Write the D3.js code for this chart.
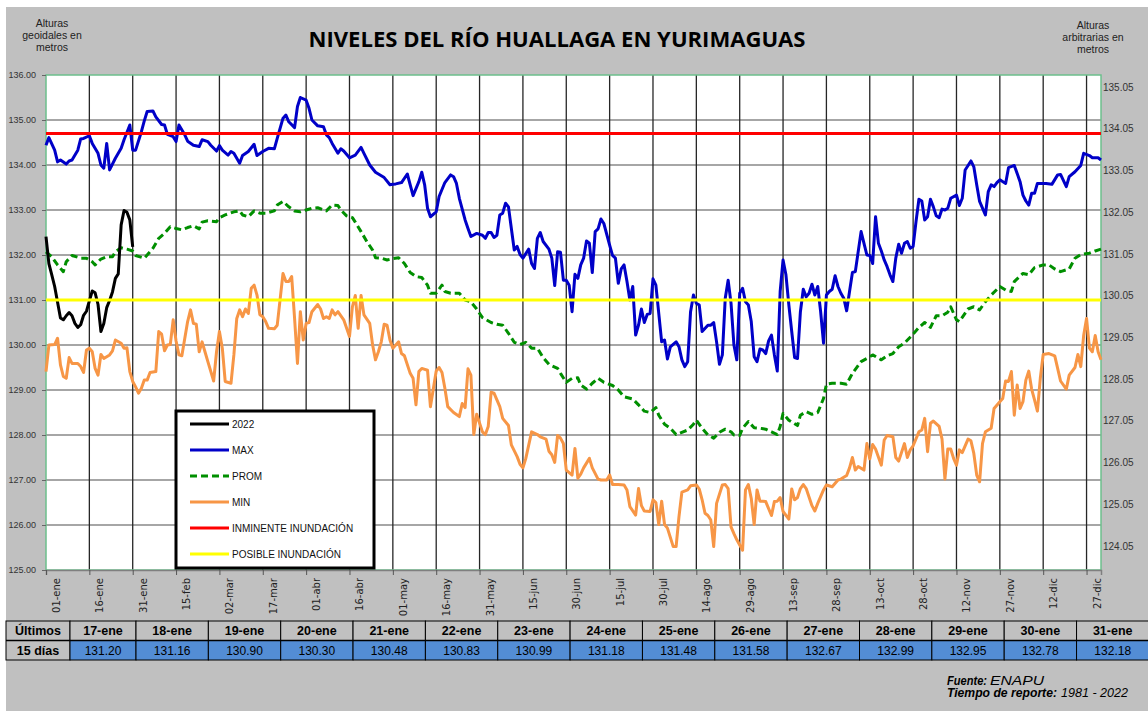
<!DOCTYPE html>
<html>
<head>
<meta charset="utf-8">
<script src="https://cdn.jsdelivr.net/npm/d3@7"></script>
<style>
  body { margin: 0; background: #ffffff; }
  svg { display: block; }
</style>
</head>
<body>
<svg></svg>
<script>
// --- datos (dia del anio, nivel en m) ---
var tickLabels = ["01-ene", "16-ene", "31-ene", "15-feb", "02-mar", "17-mar", "01-abr", "16-abr",
  "01-may", "16-may", "31-may", "15-jun", "30-jun", "15-jul", "30-jul", "14-ago", "29-ago",
  "13-sep", "28-sep", "13-oct", "28-oct", "12-nov", "27-nov", "12-dic", "27-dic"];
var leftTicks = [125, 126, 127, 128, 129, 130, 131, 132, 133, 134, 135, 136];
var rightTicks = [124.05, 125.05, 126.05, 127.05, 128.05, 129.05, 130.05, 131.05, 132.05, 133.05, 134.05, 135.05];

var inminente = 134.70;
var posible = 131.00;

var days2022 = [1, 2, 3, 4, 5, 6, 7, 8, 9, 10, 11, 12, 13, 14, 15, 16, 17, 18, 19, 20, 21, 22, 23, 24, 25, 26, 27, 28, 29, 30, 31];
var vals2022 = [132.41, 131.81, 131.56, 131.30, 130.95, 130.60, 130.56, 130.65, 130.72, 130.65, 130.48, 130.39,
  130.45, 130.66, 130.75, 130.98, 131.20, 131.16, 130.90, 130.30, 130.48, 130.83, 130.99, 131.18, 131.48,
  131.58, 132.67, 132.99, 132.95, 132.78, 132.18];

var maxDays = [1, 2, 4, 5, 6, 8, 9, 10, 12, 13, 14, 16, 17, 19, 20, 21, 22, 23, 25, 27, 28, 30, 31, 32, 34, 35, 36, 38, 39,
  41, 42, 43, 45, 46, 47, 49, 50, 52, 54, 55, 57, 58, 60, 61, 62, 64, 65, 66, 68, 69, 71, 73, 74, 76, 78, 80, 81, 83,
  84, 85, 87, 88, 89, 91, 92, 93, 95, 97, 98, 99, 100, 102, 103, 104, 106, 108, 110, 111, 113, 115, 117, 118, 120,
  121, 122, 124, 126, 128, 130, 131, 132, 133, 134, 136, 137, 139, 141, 142, 143, 144, 146, 147, 148, 150, 152, 153,
  154, 155, 156, 157, 158, 159, 160, 161, 162, 163, 164, 165, 166, 168, 169, 170, 171, 172, 173, 175, 176, 177, 178,
  179, 180, 181, 182, 183, 184, 185, 186, 187, 188, 189, 190, 191, 192, 193, 194, 196, 197, 198, 199, 200, 201, 202,
  203, 204, 205, 206, 207, 208, 209, 210, 211, 212, 214, 215, 216, 217, 219, 220, 221, 222, 223, 224, 225, 226, 227,
  228, 230, 231, 232, 233, 234, 235, 236, 237, 238, 239, 240, 241, 242, 243, 244, 245, 246, 247, 248, 249, 250, 251,
  252, 253, 254, 255, 256, 257, 258, 259, 260, 261, 262, 263, 264, 265, 266, 267, 268, 269, 270, 271, 272, 273, 274,
  275, 276, 277, 278, 279, 280, 281, 283, 284, 285, 286, 287, 288, 289, 290, 291, 292, 293, 294, 295, 296, 297, 298,
  299, 300, 301, 302, 303, 304, 305, 306, 307, 308, 309, 310, 311, 312, 313, 314, 316, 317, 318, 319, 321, 322, 323,
  324, 326, 327, 328, 329, 330, 331, 333, 334, 336, 337, 338, 339, 340, 341, 342, 343, 344, 346, 347, 349, 351, 352,
  354, 355, 357, 359, 360, 362, 363, 365, 366];
var maxVals = [134.44, 134.61, 134.33, 134.07, 134.11, 134.02, 134.09, 134.11, 134.33, 134.58, 134.59, 134.65, 134.48,
  134.26, 134.00, 133.93, 134.48, 133.89, 134.15, 134.37, 134.56, 134.89, 134.33, 134.33, 134.74, 134.98, 135.19,
  135.20, 135.07, 134.90, 134.89, 134.68, 134.63, 134.52, 134.89, 134.67, 134.53, 134.44, 134.41, 134.56, 134.52,
  134.44, 134.31, 134.43, 134.33, 134.22, 134.30, 134.26, 134.04, 134.21, 134.30, 134.46, 134.21, 134.30, 134.37,
  134.36, 134.59, 135.04, 135.11, 134.96, 134.83, 135.30, 135.50, 135.44, 135.26, 135.00, 134.87, 134.85, 134.67,
  134.61, 134.48, 134.26, 134.36, 134.31, 134.16, 134.22, 134.39, 134.26, 134.00, 133.84, 133.76, 133.72, 133.56,
  133.57, 133.58, 133.61, 133.80, 133.32, 133.63, 133.84, 133.56, 133.04, 132.85, 132.96, 133.30, 133.61, 133.78,
  133.74, 133.59, 133.26, 132.78, 132.59, 132.41, 132.48, 132.44, 132.37, 132.50, 132.50, 132.39, 132.44, 132.89,
  132.93, 133.15, 133.07, 132.59, 132.11, 132.19, 132.01, 131.93, 132.13, 131.81, 131.70, 132.37, 132.50, 132.30,
  132.13, 131.93, 131.32, 132.07, 132.06, 131.44, 131.44, 131.33, 130.74, 131.57, 131.48, 131.78, 131.93, 132.31,
  132.26, 131.61, 132.52, 132.58, 132.80, 132.70, 132.22, 131.99, 131.93, 131.37, 131.69, 131.78, 131.41, 131.00,
  131.30, 130.22, 130.44, 130.80, 130.50, 130.68, 130.70, 131.47, 131.33, 130.07, 130.11, 129.69, 129.96, 130.07,
  129.96, 129.67, 129.52, 129.63, 130.74, 131.11, 130.93, 130.89, 130.30, 130.44, 130.44, 130.50, 130.07, 129.57,
  129.78, 131.04, 131.44, 130.93, 130.00, 129.67, 131.15, 131.26, 130.96, 130.89, 130.52, 129.74, 129.63, 129.91,
  129.89, 129.81, 130.09, 130.22, 129.78, 129.42, 131.19, 131.89, 131.56, 130.89, 130.30, 129.72, 129.70, 130.74,
  131.24, 131.07, 131.15, 131.35, 131.11, 131.30, 130.74, 130.04, 131.11, 131.19, 131.24, 131.54, 131.30, 131.15,
  131.04, 130.76, 131.19, 131.61, 131.63, 132.52, 132.26, 132.00, 131.99, 131.81, 132.85, 132.26, 132.09, 131.89,
  131.74, 131.56, 131.41, 131.93, 132.24, 132.04, 132.26, 132.30, 132.15, 132.19, 132.74, 133.24, 133.20, 132.78,
  132.85, 133.24, 133.07, 132.87, 132.83, 133.02, 133.00, 133.04, 133.26, 133.33, 133.10, 133.26, 133.89, 134.09,
  133.96, 133.56, 133.19, 132.89, 133.41, 133.56, 133.52, 133.61, 133.67, 133.59, 133.94, 133.99, 133.81, 133.63,
  133.33, 133.20, 133.11, 133.37, 133.37, 133.59, 133.59, 133.59, 133.57, 133.78, 133.79, 133.52, 133.74, 133.85,
  133.99, 134.26, 134.21, 134.16, 134.16, 134.11];

var promDays = [1, 3, 5, 7, 8, 10, 13, 15, 17, 18, 20, 22, 24, 25, 27, 29, 31, 32, 35, 36, 38, 40, 42, 44, 46, 48, 50,
  52, 54, 55, 57, 60, 61, 63, 66, 68, 69, 71, 73, 75, 77, 80, 81, 83, 85, 87, 89, 91, 93, 95, 98, 100, 102, 103, 105,
  107, 108, 110, 112, 114, 115, 117, 119, 121, 123, 125, 127, 129, 131, 133, 134, 136, 138, 139, 141, 144, 146, 148,
  150, 152, 155, 157, 159, 161, 163, 165, 167, 169, 171, 173, 175, 178, 179, 181, 183, 185, 186, 188, 190, 192, 194,
  197, 199, 201, 204, 206, 208, 210, 212, 213, 215, 217, 219, 221, 223, 225, 226, 228, 230, 232, 234, 236, 238, 239,
  241, 242, 244, 246, 248, 250, 252, 254, 255, 256, 258, 261, 262, 264, 266, 268, 270, 271, 273, 276, 278, 280, 283,
  285, 287, 290, 292, 294, 296, 298, 301, 303, 305, 307, 309, 311, 313, 314, 316, 317, 320, 322, 324, 326, 328, 331,
  333, 335, 336, 339, 341, 343, 346, 348, 350, 352, 355, 357, 359, 362, 364, 366];
var promVals = [132.07, 131.96, 131.78, 131.63, 131.85, 131.99, 131.93, 131.93, 131.85, 131.78, 131.91, 131.96, 131.96,
  132.07, 132.16, 132.13, 132.09, 131.99, 131.93, 132.00, 132.15, 132.37, 132.48, 132.63, 132.59, 132.56, 132.61,
  132.65, 132.58, 132.73, 132.76, 132.74, 132.83, 132.89, 132.96, 132.98, 132.89, 132.85, 132.98, 132.93, 132.93,
  132.98, 133.11, 133.19, 133.07, 132.98, 132.96, 133.00, 133.04, 133.05, 132.98, 133.11, 133.10, 133.00, 132.87,
  132.83, 132.73, 132.52, 132.30, 132.11, 131.94, 131.93, 131.89, 131.92, 131.94, 131.81, 131.61, 131.52, 131.50,
  131.33, 131.15, 131.15, 131.33, 131.19, 131.15, 131.15, 131.00, 130.96, 130.80, 130.61, 130.50, 130.46, 130.44,
  130.26, 130.06, 130.01, 130.06, 129.93, 129.93, 129.72, 129.57, 129.48, 129.37, 129.17, 129.26, 129.27, 129.11,
  129.02, 129.15, 129.26, 129.17, 129.10, 129.00, 128.85, 128.80, 128.67, 128.53, 128.50, 128.61, 128.44, 128.24,
  128.15, 128.01, 128.06, 128.11, 128.24, 128.33, 128.15, 128.00, 127.93, 128.06, 128.13, 128.07, 128.00, 127.99,
  128.15, 128.30, 128.16, 128.15, 128.13, 128.07, 128.01, 128.19, 128.48, 128.33, 128.21, 128.44, 128.52, 128.46,
  128.50, 128.81, 129.13, 129.15, 129.15, 129.13, 129.37, 129.63, 129.70, 129.78, 129.67, 129.76, 129.81, 129.96,
  130.04, 130.24, 130.39, 130.50, 130.39, 130.65, 130.65, 130.73, 130.85, 130.56, 130.52, 130.80, 130.85, 130.78,
  130.96, 131.11, 131.30, 131.22, 131.19, 131.41, 131.59, 131.56, 131.72, 131.78, 131.78, 131.69, 131.63, 131.69,
  131.93, 132.01, 132.04, 132.09, 132.13];

var minDays = [1, 2, 4, 5, 6, 7, 8, 9, 10, 12, 13, 14, 15, 16, 17, 18, 19, 20, 21, 23, 24, 25, 27, 28, 29, 30, 31, 32,
  33, 34, 35, 36, 37, 39, 40, 41, 42, 43, 44, 45, 46, 47, 48, 50, 51, 52, 53, 54, 55, 56, 57, 59, 60, 61, 62, 63, 65,
  66, 67, 68, 69, 70, 71, 72, 73, 74, 75, 76, 77, 78, 80, 81, 83, 84, 85, 86, 87, 88, 89, 90, 91, 92, 93, 95, 96, 97,
  98, 99, 100, 101, 102, 104, 106, 107, 108, 109, 110, 111, 113, 114, 115, 116, 117, 118, 119, 120, 121, 123, 124, 125,
  127, 128, 129, 130, 131, 133, 134, 136, 137, 138, 139, 140, 142, 144, 145, 146, 147, 148, 149, 150, 152, 153, 154,
  155, 156, 158, 159, 161, 162, 164, 165, 166, 167, 169, 171, 172, 174, 175, 176, 177, 178, 179, 180, 181, 183, 184,
  185, 186, 187, 189, 190, 192, 193, 195, 196, 197, 199, 201, 202, 203, 205, 206, 207, 208, 210, 211, 212, 213, 214,
  215, 216, 218, 219, 220, 221, 223, 224, 226, 227, 228, 229, 230, 231, 232, 233, 235, 236, 237, 238, 239, 240, 242,
  243, 244, 245, 246, 247, 248, 249, 250, 252, 253, 254, 255, 256, 258, 259, 260, 261, 262, 263, 264, 266, 267, 268,
  270, 271, 273, 275, 276, 278, 279, 280, 281, 282, 284, 285, 286, 287, 288, 290, 291, 292, 294, 295, 296, 298, 299,
  300, 301, 303, 304, 305, 306, 307, 308, 310, 311, 312, 313, 314, 315, 316, 317, 318, 320, 321, 322, 323, 324, 325,
  326, 327, 328, 329, 331, 332, 333, 334, 335, 336, 337, 338, 339, 340, 341, 342, 343, 344, 345, 346, 348, 350, 351,
  352, 354, 355, 357, 358, 359, 360, 361, 362, 363, 364, 365, 366];
var minVals = [129.41, 130.00, 130.01, 130.15, 129.56, 129.30, 129.26, 129.72, 129.59, 129.59, 129.52, 129.39, 129.89,
  129.93, 129.85, 129.48, 129.33, 129.79, 129.70, 129.78, 129.87, 130.11, 130.04, 129.93, 129.94, 129.41, 129.19,
  129.07, 128.93, 129.04, 129.22, 129.22, 129.39, 129.41, 130.30, 130.24, 129.87, 130.00, 130.01, 130.56, 130.09,
  129.78, 129.76, 130.52, 130.78, 130.48, 130.46, 129.85, 130.07, 129.85, 129.63, 129.20, 129.85, 130.30, 129.93,
  129.19, 129.15, 129.78, 130.59, 130.78, 130.63, 130.80, 130.70, 131.26, 131.33, 131.11, 130.67, 130.63, 130.52,
  130.37, 130.36, 130.44, 131.59, 131.41, 131.41, 131.52, 130.59, 129.59, 130.74, 130.11, 130.48, 130.50, 130.74,
  130.90, 130.80, 130.59, 130.63, 130.59, 130.78, 130.67, 130.74, 130.56, 130.19, 130.85, 131.10, 130.37, 131.10,
  130.67, 130.48, 130.00, 129.67, 129.85, 130.07, 130.46, 130.44, 130.11, 129.93, 130.07, 129.81, 129.76, 129.37,
  129.26, 128.67, 129.41, 129.48, 129.44, 128.63, 129.42, 129.50, 129.39, 129.04, 128.63, 128.50, 128.41, 128.70,
  128.61, 129.47, 129.33, 128.01, 128.46, 128.07, 128.01, 128.19, 128.95, 128.93, 128.63, 128.37, 128.21, 127.78,
  127.52, 127.35, 127.27, 127.48, 128.07, 128.01, 127.96, 127.91, 127.64, 127.56, 127.39, 127.99, 127.93, 127.81,
  127.22, 127.11, 127.70, 127.04, 127.13, 127.27, 127.48, 127.27, 127.02, 127.00, 127.00, 127.11, 126.90, 126.90,
  126.89, 126.78, 126.41, 126.22, 126.81, 126.43, 126.31, 126.30, 126.56, 126.50, 126.01, 126.53, 126.01, 125.93,
  125.52, 125.52, 126.19, 126.73, 126.78, 126.87, 126.89, 126.80, 126.56, 126.26, 126.21, 126.11, 125.52, 126.48,
  126.89, 126.90, 126.81, 125.96, 125.81, 125.67, 125.44, 126.78, 126.90, 126.59, 126.01, 126.78, 126.53, 126.53,
  126.52, 126.21, 126.52, 126.53, 126.61, 126.30, 126.13, 126.80, 126.56, 126.61, 126.81, 126.90, 126.81, 126.43,
  126.31, 126.48, 126.78, 126.89, 126.85, 127.00, 127.02, 127.10, 127.27, 127.50, 127.22, 127.30, 127.22, 127.81,
  127.47, 127.79, 127.69, 127.33, 127.89, 127.99, 127.96, 127.50, 127.42, 127.81, 127.50, 127.67, 127.76, 128.07,
  128.11, 128.37, 127.63, 128.26, 128.31, 128.19, 127.91, 127.02, 127.69, 127.69, 127.48, 127.33, 127.67, 127.61,
  127.91, 127.87, 127.59, 127.11, 126.96, 127.81, 128.07, 128.11, 128.15, 128.59, 128.74, 128.81, 129.20, 129.19,
  129.41, 128.44, 129.11, 128.59, 128.74, 129.22, 129.42, 129.02, 128.78, 128.53, 129.26, 129.79, 129.81, 129.76,
  129.48, 129.20, 129.02, 129.33, 129.50, 129.79, 129.52, 130.21, 130.59, 129.93, 129.85, 130.21, 129.85, 129.67];

// tabla: ultimos 15 dias
var tableDates = ["17-ene", "18-ene", "19-ene", "20-ene", "21-ene", "22-ene", "23-ene", "24-ene", "25-ene",
  "26-ene", "27-ene", "28-ene", "29-ene", "30-ene", "31-ene"];
var tableVals = [131.20, 131.16, 130.90, 130.30, 130.48, 130.83, 130.99, 131.18, 131.48, 131.58, 132.67, 132.99,
  132.95, 132.78, 132.18];

var draw = function() {

  var W = 1148, H = 711;
  var left = 46, right = 1101, top = 75, bottom = 570;

  var svg = d3.select("svg")
    .attr("width", W)
    .attr("height", H)
    .style("font-family", "'Liberation Sans', Arial, sans-serif");

  // fondo gris
  svg.append("rect")
    .attr("x", 6).attr("y", 7)
    .attr("width", W - 6).attr("height", H - 7)
    .attr("fill", "#c0c0c0");

  // scales
  var x = d3.scaleLinear().domain([1, 366]).range([left, right]);
  var y = d3.scaleLinear().domain([125, 136]).range([bottom, top]);
  var yR = d3.scaleLinear().domain([123.47, 135.34]).range([bottom, top]);

  // area de trazado
  svg.append("rect")
    .attr("x", left).attr("y", top)
    .attr("width", right - left).attr("height", bottom - top)
    .attr("fill", "#ffffff");

  // grid horizontal
  svg.append("g")
    .selectAll("line")
    .data(leftTicks.filter(function(d) { return d > 125 && d < 136; }))
    .enter().append("line")
    .attr("x1", left).attr("x2", right)
    .attr("y1", function(d) { return y(d); })
    .attr("y2", function(d) { return y(d); })
    .attr("stroke", "#a6a6a6")
    .attr("stroke-width", 2);

  var tickDays = tickLabels.map(function(t, i) { return 1 + 15 * i; });

  // grid vertical
  svg.append("g")
    .selectAll("line")
    .data(tickDays.slice(1))
    .enter().append("line")
    .attr("x1", function(d) { return x(d); })
    .attr("x2", function(d) { return x(d); })
    .attr("y1", top).attr("y2", bottom)
    .attr("stroke", "#262626")
    .attr("stroke-width", 1.3);

  // borde verde
  svg.append("rect")
    .attr("x", left).attr("y", top)
    .attr("width", right - left).attr("height", bottom - top)
    .attr("fill", "none")
    .attr("stroke", "#6cbf8c")
    .attr("stroke-width", 1.5);

  // eje X
  var xAxis = svg.append("g")
    .attr("transform", "translate(0," + bottom + ")")
    .call(d3.axisBottom(x)
      .tickValues(tickDays)
      .tickSize(5)
      .tickFormat(function(d, i) { return tickLabels[i]; }));
  xAxis.select(".domain").attr("stroke", "#7f7f7f").attr("stroke-width", 1.5);
  xAxis.selectAll(".tick line").attr("stroke", "#555");
  xAxis.selectAll("text")
    .attr("transform", "rotate(-90)")
    .attr("text-anchor", "end")
    .attr("x", -8)
    .attr("y", 10)
    .attr("dy", "0.35em")
    .style("font-family", "'DejaVu Sans', Verdana, sans-serif")
    .style("font-size", "10px")
    .attr("fill", "#222");

  // eje Y izquierdo
  var yAxis = svg.append("g")
    .attr("transform", "translate(" + left + ",0)")
    .call(d3.axisLeft(y)
      .tickValues(leftTicks)
      .tickSize(4)
      .tickPadding(6)
      .tickFormat(d3.format(".2f")));
  yAxis.select(".domain").remove();
  yAxis.selectAll(".tick line").attr("stroke", "#666");
  yAxis.selectAll("text")
    .style("font-size", "9px")
    .attr("fill", "#333");

  // eje Y derecho
  var yAxisR = svg.append("g")
    .attr("transform", "translate(" + right + ",0)")
    .call(d3.axisRight(yR)
      .tickValues(rightTicks)
      .tickSize(0)
      .tickPadding(2)
      .tickFormat(d3.format(".2f")));
  yAxisR.select(".domain").remove();
  yAxisR.selectAll("text")
    .style("font-size", "10px")
    .attr("fill", "#333");

  // series
  var line = d3.line()
    .x(function(d) { return x(d[0]); })
    .y(function(d) { return y(d[1]); });

  var series = [
    { name: "MIN", days: minDays, vals: minVals, color: "#f79646", dash: null },
    { name: "PROM", days: promDays, vals: promVals, color: "#008f00", dash: "7,4" },
    { name: "MAX", days: maxDays, vals: maxVals, color: "#0000c8", dash: null },
    { name: "2022", days: days2022, vals: vals2022, color: "#000000", dash: null }
  ];

  svg.append("g")
    .selectAll("path")
    .data(series)
    .enter().append("path")
    .attr("d", function(s) { return line(d3.zip(s.days, s.vals)); })
    .attr("fill", "none")
    .attr("stroke", function(s) { return s.color; })
    .attr("stroke-width", 3)
    .attr("stroke-linejoin", "round")
    .attr("stroke-dasharray", function(s) { return s.dash; });

  // umbrales
  svg.append("g")
    .selectAll("line")
    .data([{ v: inminente, c: "#ff0000" }, { v: posible, c: "#ffff00" }])
    .enter().append("line")
    .attr("x1", left).attr("x2", right)
    .attr("y1", function(d) { return y(d.v); })
    .attr("y2", function(d) { return y(d.v); })
    .attr("stroke", function(d) { return d.c; })
    .attr("stroke-width", 3);

  // leyenda
  var legendItems = [
    { label: "2022", color: "#000000", dash: null },
    { label: "MAX", color: "#0000c8", dash: null },
    { label: "PROM", color: "#008f00", dash: "7,4" },
    { label: "MIN", color: "#f79646", dash: null },
    { label: "INMINENTE INUNDACIÓN", color: "#ff0000", dash: null },
    { label: "POSIBLE INUNDACIÓN", color: "#ffff00", dash: null }
  ];
  var lg = svg.append("g").attr("transform", "translate(176,411)");
  lg.append("rect")
    .attr("width", 198).attr("height", 157)
    .attr("fill", "#ffffff")
    .attr("stroke", "#000")
    .attr("stroke-width", 3);
  var li = lg.selectAll("g.item")
    .data(legendItems)
    .enter().append("g")
    .attr("transform", function(d, i) { return "translate(0," + (13 + i * 26) + ")"; });
  li.append("line")
    .attr("x1", 14).attr("x2", 53)
    .attr("stroke", function(d) { return d.color; })
    .attr("stroke-width", 3)
    .attr("stroke-dasharray", function(d) { return d.dash; });
  li.append("text")
    .attr("x", 56).attr("dy", "0.35em")
    .style("font-size", "10px")
    .attr("fill", "#111")
    .text(function(d) { return d.label; });

  // titulo y rotulos de ejes
  svg.append("text")
    .attr("x", 557).attr("y", 47)
    .attr("text-anchor", "middle")
    .attr("textLength", 497)
    .attr("lengthAdjust", "spacingAndGlyphs")
    .style("font-family", "'Open Sans', sans-serif")
    .style("font-weight", "bold")
    .style("font-size", "21px")
    .attr("fill", "#000")
    .text("NIVELES DEL RÍO HUALLAGA EN YURIMAGUAS");

  var leftTitle = ["Alturas", "geoidales en", "metros"];
  var rightTitle = ["Alturas", "arbitrarias en", "metros"];
  svg.append("g").selectAll("text")
    .data(leftTitle).enter().append("text")
    .attr("x", 52).attr("y", function(d, i) { return 27 + i * 12; })
    .attr("text-anchor", "middle")
    .style("font-size", "10.5px")
    .attr("fill", "#222")
    .text(function(d) { return d; });
  svg.append("g").selectAll("text")
    .data(rightTitle).enter().append("text")
    .attr("x", 1093).attr("y", function(d, i) { return 29 + i * 12; })
    .attr("text-anchor", "middle")
    .style("font-size", "10.5px")
    .attr("fill", "#222")
    .text(function(d) { return d; });

  // tabla ultimos 15 dias
  var tTop = 621, rowH = 19.5;
  var colX = tableDates.map(function(d, i) { return i === 0 ? 70 : 136 + (i - 1) * 72.35; });
  var colW = tableDates.map(function(d, i) { return i === 0 ? 66 : 72.35; });
  var tb = svg.append("g");

  tb.append("rect")
    .attr("x", 6).attr("y", tTop)
    .attr("width", 64).attr("height", rowH * 2)
    .attr("fill", "#c0c0c0").attr("stroke", "#000").attr("stroke-width", 1);
  tb.selectAll("text.lab")
    .data(["Últimos", "15 días"]).enter().append("text")
    .attr("class", "lab")
    .attr("x", 38).attr("y", function(d, i) { return tTop + rowH * i + rowH / 2; })
    .attr("dy", "0.36em")
    .attr("text-anchor", "middle")
    .style("font-size", "12.5px").style("font-weight", "bold")
    .text(function(d) { return d; });

  var cells = tb.selectAll("g.col")
    .data(tableDates).enter().append("g");
  cells.append("rect")
    .attr("x", function(d, i) { return colX[i]; }).attr("y", tTop)
    .attr("width", function(d, i) { return colW[i]; }).attr("height", rowH)
    .attr("fill", "#c0c0c0").attr("stroke", "#000").attr("stroke-width", 1);
  cells.append("rect")
    .attr("x", function(d, i) { return colX[i]; }).attr("y", tTop + rowH)
    .attr("width", function(d, i) { return colW[i]; }).attr("height", rowH)
    .attr("fill", "#538dd5").attr("stroke", "#000").attr("stroke-width", 1);
  cells.append("text")
    .attr("x", function(d, i) { return colX[i] + colW[i] / 2; })
    .attr("y", tTop + rowH / 2).attr("dy", "0.36em")
    .attr("text-anchor", "middle")
    .style("font-size", "12.5px").style("font-weight", "bold")
    .text(function(d) { return d; });
  cells.append("text")
    .attr("x", function(d, i) { return colX[i] + colW[i] / 2; })
    .attr("y", tTop + rowH * 1.5).attr("dy", "0.36em")
    .attr("text-anchor", "middle")
    .style("font-size", "12px")
    .text(function(d, i) { return d3.format(".2f")(tableVals[i]); });
  tb.append("line")
    .attr("x1", 6).attr("x2", W).attr("y1", tTop + rowH).attr("y2", tTop + rowH)
    .attr("stroke", "#000").attr("stroke-width", 1.5);

  // fuente (textos separados, comprimidos)
  var footer = [
    { t: "Fuente:", x: 947, y: 685, w: 40, b: true },
    { t: "ENAPU", x: 990, y: 685, w: 54, b: false },
    { t: "Tiempo de reporte:", x: 947, y: 697, w: 110, b: true },
    { t: "1981 - 2022", x: 1061, y: 697, w: 67, b: false }
  ];
  svg.append("g").selectAll("text")
    .data(footer).enter().append("text")
    .attr("x", function(d) { return d.x; })
    .attr("y", function(d) { return d.y; })
    .attr("textLength", function(d) { return d.w; })
    .attr("lengthAdjust", "spacingAndGlyphs")
    .style("font-size", "12.5px")
    .style("font-style", "italic")
    .style("font-weight", function(d) { return d.b ? "bold" : "normal"; })
    .text(function(d) { return d.t; });
};

draw();
</script>
</body>
</html>
